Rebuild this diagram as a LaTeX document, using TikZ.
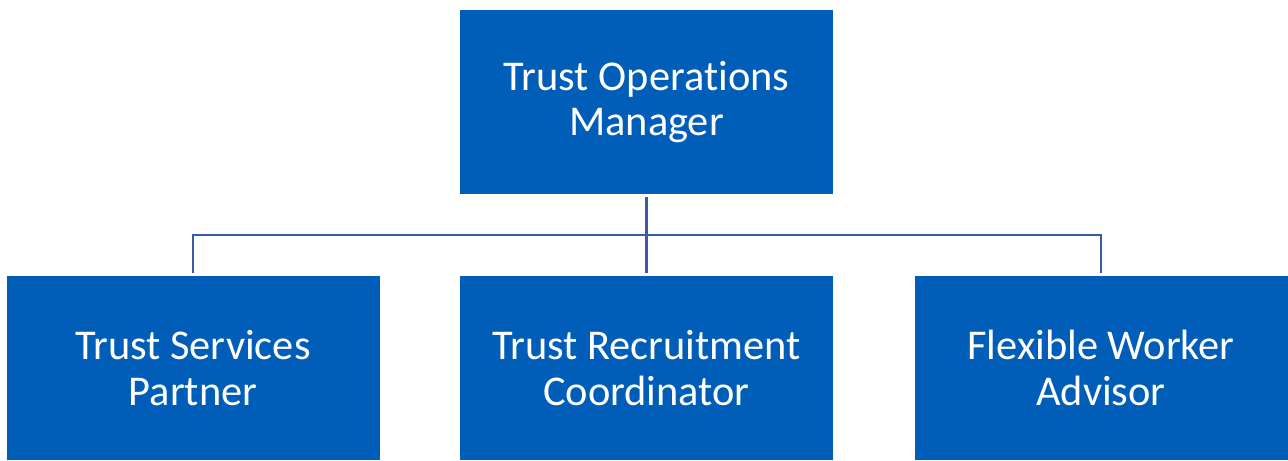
\documentclass[tikz,border=0pt]{standalone}
\usepackage{fontspec}
\setmainfont{Carlito}[Ligatures=NoCommon]
\definecolor{boxblue}{RGB}{0,94,184}
\definecolor{linkblue}{RGB}{59,91,160}
\tikzset{
  rolebox/.style={fill=boxblue, text=white, align=center, minimum width=186.5pt,
    minimum height=92pt, inner sep=0pt, outer sep=1.75pt,
    font=\fontsize{21.2}{22.6}\selectfont},
  link/.style={draw=linkblue, line width=1.2pt}
}
\begin{document}
\begin{tikzpicture}[x=0.5pt,y=-0.5pt]
\useasboundingbox (0,0) rectangle (1288,460);
\node[rolebox] (mgr) at (646.5,101.75) {Trust Operations\\Manager};
\node[rolebox] (tsp) at (193,368) {Trust Services\\Partner};
\node[rolebox] (trc) at (646.5,368) {Trust Recruitment\\Coordinator};
\node[rolebox] (fwa) at (1101,368) {Flexible Worker\\Advisor};

\draw[link] (mgr.south) -- ++(0,38) -| (tsp.north);
\draw[link] (mgr.south) -- (trc.north);
\draw[link] (mgr.south) -- ++(0,38) -| (fwa.north);
\end{tikzpicture}
\end{document}
